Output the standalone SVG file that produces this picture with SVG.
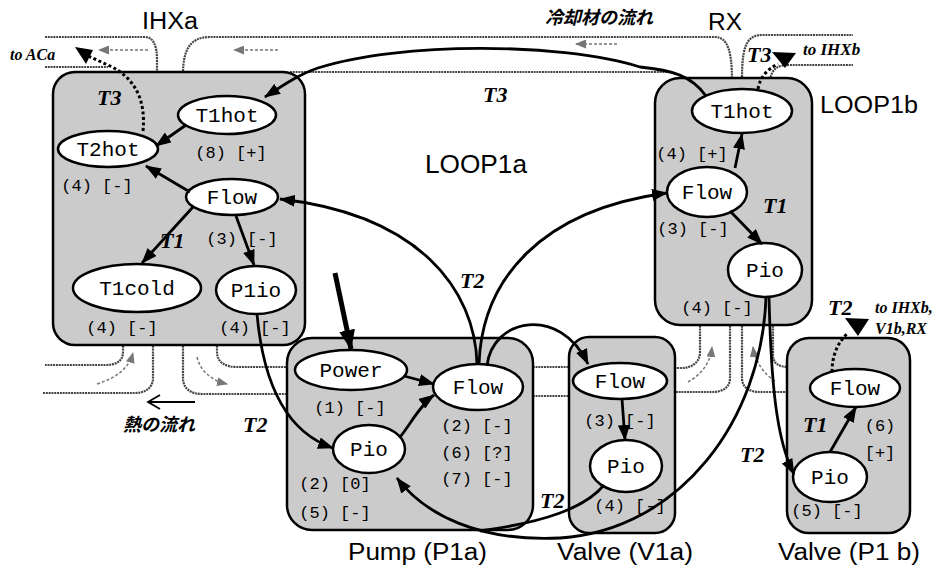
<svg xmlns="http://www.w3.org/2000/svg" width="941" height="575" viewBox="0 0 941 575">
<defs>
<style>
.pipe{fill:none;stroke:#444;stroke-width:2.2;stroke-dasharray:2 0.8}
.flowarr{fill:none;stroke:#777;stroke-width:1.5;stroke-dasharray:3 2}
.box{fill:#cbcbcb;stroke:#000;stroke-width:2.5}
.var{fill:#fff;stroke:#000;stroke-width:2.5}
.vt{font-family:"Liberation Mono","DejaVu Sans Mono",monospace;font-size:21px;text-anchor:middle;fill:#000}
.lt{font-family:"Liberation Mono","DejaVu Sans Mono",monospace;font-size:17px;text-anchor:middle;fill:#000}
.title{font-family:"Liberation Sans",Arial,sans-serif;font-size:23px;fill:#000}
.tl{font-family:"Liberation Serif","Times New Roman",serif;font-size:22px;font-weight:bold;font-style:italic;fill:#000}
.note{font-family:"Liberation Serif","Times New Roman",serif;font-size:16px;font-weight:bold;font-style:italic;fill:#000}
.jp{font-family:"Liberation Sans","Noto Sans CJK JP",sans-serif;font-size:18px;font-weight:bold;font-style:italic;fill:#000}
.edge{fill:none;stroke:#000;stroke-width:2.8}
.dot{fill:none;stroke:#000;stroke-width:3;stroke-dasharray:3 2.5}
</style>
<marker id="ah" markerUnits="userSpaceOnUse" markerWidth="16" markerHeight="12" refX="15" refY="6" orient="auto"><path d="M0,0 L16,6 L0,12 z" fill="#000"/></marker>
<marker id="ahb" markerUnits="userSpaceOnUse" markerWidth="20" markerHeight="16" refX="19" refY="8" orient="auto"><path d="M0,0 L20,8 L0,16 z" fill="#000"/></marker>
<marker id="gh" markerUnits="userSpaceOnUse" markerWidth="11" markerHeight="9" refX="10" refY="4.5" orient="auto"><path d="M0,0 L11,4.5 L0,9 z" fill="#777"/></marker>
</defs>
<rect width="941" height="575" fill="#fff"/>

<g id="pipes">
<path class="pipe" d="M45,37 L145,37 C153,37 157,45 157,60 L157,74"/>
<path class="pipe" d="M45,67 L108,67"/>
<path class="pipe" d="M183,74 C183,50 190,37 210,37 L715,37 C727,37 732,50 732,80"/>
<path class="pipe" d="M290,72 L668,72"/>
<path class="pipe" d="M742,80 C742,50 745,35 762,35 L853,35"/>
<path class="pipe" d="M770,80 C772,68 778,65 790,65 L853,65"/>
<path class="pipe" d="M123,343 L123,352 C123,362 115,365 105,365 L45,365"/>
<path class="pipe" d="M153,343 L153,378 C153,388 145,393 135,393 L43,393"/>
<path class="pipe" d="M183,343 L183,378 C183,388 190,394 202,394 L290,394"/>
<path class="pipe" d="M217,343 L217,352 C217,362 225,367 237,367 L290,367"/>
<path class="pipe" d="M530,367 L571,367"/>
<path class="pipe" d="M530,396 L571,396"/>
<path class="pipe" d="M700,323 L700,352 C700,362 692,368 682,368 L673,368"/>
<path class="pipe" d="M730,323 L730,378 C730,388 722,392 712,392 L673,392"/>
<path class="pipe" d="M742,323 L742,378 C742,388 750,392 760,392 L789,392"/>
<path class="pipe" d="M773,323 L773,355 C773,363 778,367 789,367"/>
<path class="flowarr" marker-end="url(#gh)" d="M148,50 L99,50"/>
<path class="flowarr" marker-end="url(#gh)" d="M278,50 L234,50"/>
<path class="flowarr" marker-end="url(#gh)" d="M617,44 L576,44"/>
<path class="flowarr" marker-end="url(#gh)" d="M97,384 C115,378 128,370 133,353"/>
<path class="flowarr" marker-end="url(#gh)" d="M197,357 C200,370 210,380 227,384"/>
<path class="flowarr" marker-end="url(#gh)" d="M688,382 C700,375 710,365 712,347"/>
<path class="flowarr" marker-end="url(#gh)" d="M775,381 C765,375 755,362 753,347"/>
<path d="M195,402 L148,402 M160,395 L148,402 L160,409" fill="none" stroke="#000" stroke-width="1.8"/>
</g>

<g id="labels">
<text class="title" x="142" y="29" textLength="56" lengthAdjust="spacingAndGlyphs">IHXa</text>
<text class="title" x="708" y="30" textLength="34" lengthAdjust="spacingAndGlyphs">RX</text>
<text class="title" x="820" y="113" textLength="98" lengthAdjust="spacingAndGlyphs">LOOP1b</text>
<text class="title" x="425" y="173" style="font-size:25px" textLength="102" lengthAdjust="spacingAndGlyphs">LOOP1a</text>
<text class="title" x="348" y="560" textLength="139" lengthAdjust="spacingAndGlyphs">Pump (P1a)</text>
<text class="title" x="557" y="560" textLength="136" lengthAdjust="spacingAndGlyphs">Valve (V1a)</text>
<text class="title" x="778" y="560" textLength="142" lengthAdjust="spacingAndGlyphs">Valve (P1 b)</text>
<text class="jp" x="545" y="24">冷却材の流れ</text>
<text class="jp" x="123" y="431">熱の流れ</text>
<text class="note" x="10" y="60">to ACa</text>
<text class="note" x="803" y="55" style="font-size:17px">to IHXb</text>
<text class="note" x="875" y="313">to IHXb,</text>
<text class="note" x="875" y="334">V1b,RX</text>
</g>

<g id="IHXa">
<rect class="box" x="53" y="72" width="252" height="273" rx="22"/>
<g id="IHXa-T1hot"><ellipse class="var" cx="227" cy="115" rx="49" ry="19"/><text class="vt" x="227" y="122">T1hot</text><text class="lt" x="231" y="158">(8) [+]</text></g>
<g id="IHXa-T2hot"><ellipse class="var" cx="108" cy="149" rx="50" ry="18"/><text class="vt" x="108" y="156">T2hot</text><text class="lt" x="97" y="191">(4) [-]</text></g>
<g id="IHXa-Flow"><ellipse class="var" cx="232" cy="197" rx="46" ry="18"/><text class="vt" x="232" y="204">Flow</text><text class="lt" x="242" y="244">(3) [-]</text></g>
<g id="IHXa-T1cold"><ellipse class="var" cx="137" cy="288" rx="64" ry="24"/><text class="vt" x="137" y="295">T1cold</text><text class="lt" x="122" y="333">(4) [-]</text></g>
<g id="IHXa-P1io"><ellipse class="var" cx="256" cy="290" rx="40" ry="24"/><text class="vt" x="256" y="297">P1io</text><text class="lt" x="255" y="333">(4) [-]</text></g>
</g>

<g id="RX">
<rect class="box" x="655" y="78" width="157" height="247" rx="25"/>
<g id="RX-T1hot"><ellipse class="var" cx="742" cy="111" rx="50" ry="22"/><text class="vt" x="742" y="118">T1hot</text><text class="lt" x="692" y="159">(4) [+]</text></g>
<g id="RX-Flow"><ellipse class="var" cx="707" cy="192" rx="40" ry="25"/><text class="vt" x="707" y="199">Flow</text><text class="lt" x="693" y="234">(3) [-]</text></g>
<g id="RX-Pio"><ellipse class="var" cx="765" cy="270" rx="37" ry="27"/><text class="vt" x="765" y="277">Pio</text><text class="lt" x="717" y="313">(4) [-]</text></g>
</g>

<g id="Pump">
<rect class="box" x="287" y="338" width="246" height="192" rx="25"/>
<g id="Pump-Power"><ellipse class="var" cx="351" cy="370" rx="56" ry="20"/><text class="vt" x="351" y="377">Power</text><text class="lt" x="350" y="413">(1) [-]</text></g>
<g id="Pump-Flow"><ellipse class="var" cx="478" cy="387" rx="45" ry="23"/><text class="vt" x="478" y="394">Flow</text><text class="lt" x="477" y="431">(2) [-]</text><text class="lt" x="477" y="458">(6) [?]</text><text class="lt" x="477" y="484">(7) [-]</text></g>
<g id="Pump-Pio"><ellipse class="var" cx="369" cy="449" rx="36" ry="24"/><text class="vt" x="369" y="456">Pio</text><text class="lt" x="335" y="489">(2) [0]</text><text class="lt" x="335" y="518">(5) [-]</text></g>
</g>

<g id="ValveV1a">
<rect class="box" x="569" y="337" width="106" height="196" rx="20"/>
<g id="V1a-Flow"><ellipse class="var" cx="620" cy="381" rx="47" ry="18"/><text class="vt" x="620" y="388">Flow</text><text class="lt" x="620" y="426">(3) [-]</text></g>
<g id="V1a-Pio"><ellipse class="var" cx="626" cy="466" rx="36" ry="26"/><text class="vt" x="626" y="473">Pio</text><text class="lt" x="630" y="511">(4) [-]</text></g>
</g>

<g id="ValveP1b">
<rect class="box" x="787" y="338" width="123" height="195" rx="22"/>
<g id="P1b-Flow"><ellipse class="var" cx="855" cy="388" rx="45" ry="19"/><text class="vt" x="855" y="395">Flow</text><text class="lt" x="880" y="431">(6)</text><text class="lt" x="880" y="458">[+]</text></g>
<g id="P1b-Pio"><ellipse class="var" cx="830" cy="477" rx="37" ry="25"/><text class="vt" x="830" y="484">Pio</text><text class="lt" x="827" y="516">(5) [-]</text></g>
</g>

<g id="connectors">
<path class="edge" marker-end="url(#ah)" d="M186,125 L156,146"/>
<path class="edge" marker-end="url(#ah)" d="M190,192 L146,166"/>
<path class="edge" marker-end="url(#ah)" d="M193,207 L142,263"/>
<path class="edge" marker-end="url(#ah)" d="M236,216 L254,265"/>
<path class="edge" marker-end="url(#ah)" d="M706,96 C692,76 672,70 640,67 C560,42 400,42 318,68 C300,74 285,84 265,97"/>
<path class="edge" marker-end="url(#ah)" d="M735,168 L742,134"/>
<path class="edge" marker-end="url(#ah)" d="M730,211 L762,244"/>
<path class="edge" marker-end="url(#ah)" d="M769,297 C771,380 776,440 794,474"/>
<path class="edge" marker-end="url(#ah)" d="M766,297 C762,420 680,530 560,538 C480,542 425,515 397,478"/>
<path class="edge" d="M604,485 C585,508 545,522 480,531"/>
<path class="edge" marker-end="url(#ah)" d="M404,376 L434,384"/>
<path class="edge" marker-end="url(#ah)" d="M400,437 C410,425 420,405 434,395"/>
<path class="edge" marker-end="url(#ahb)" style="stroke-width:5" d="M335,273 L351,349"/>
<path class="edge" marker-end="url(#ah)" d="M477,364 C475,290 420,215 280,199"/>
<path class="edge" marker-end="url(#ah)" d="M479,364 C482,280 540,210 667,193"/>
<path class="edge" marker-end="url(#ah)" d="M487,366 C492,318 560,305 588,364"/>
<path class="edge" marker-end="url(#ah)" d="M257,314 C262,370 280,430 333,448"/>
<path class="edge" marker-end="url(#ah)" d="M622,399 L625,440"/>
<path class="edge" marker-end="url(#ah)" d="M830,452 L856,407"/>
<path class="dot" d="M143,131 C146,100 135,78 110,66 L88,56"/>
<polygon points="75,47 93,50 86,64" fill="#000"/>
<path class="dot" d="M758,89 C760,78 766,70 778,64"/>
<polygon points="772,52 796,53 785,68" fill="#000"/>
<path class="dot" d="M832,372 C832,355 838,342 848,333"/>
<polygon points="845,318 869,319 858,336" fill="#000"/>
<text class="tl" x="97" y="105">T3</text>
<text class="tl" x="483" y="102">T3</text>
<text class="tl" x="747" y="62">T3</text>
<text class="tl" x="160" y="248">T1</text>
<text class="tl" x="763" y="213">T1</text>
<text class="tl" x="803" y="432">T1</text>
<text class="tl" x="460" y="288">T2</text>
<text class="tl" x="243" y="432">T2</text>
<text class="tl" x="540" y="508">T2</text>
<text class="tl" x="828" y="315">T2</text>
<text class="tl" x="740" y="462">T2</text>
</g>
</svg>
